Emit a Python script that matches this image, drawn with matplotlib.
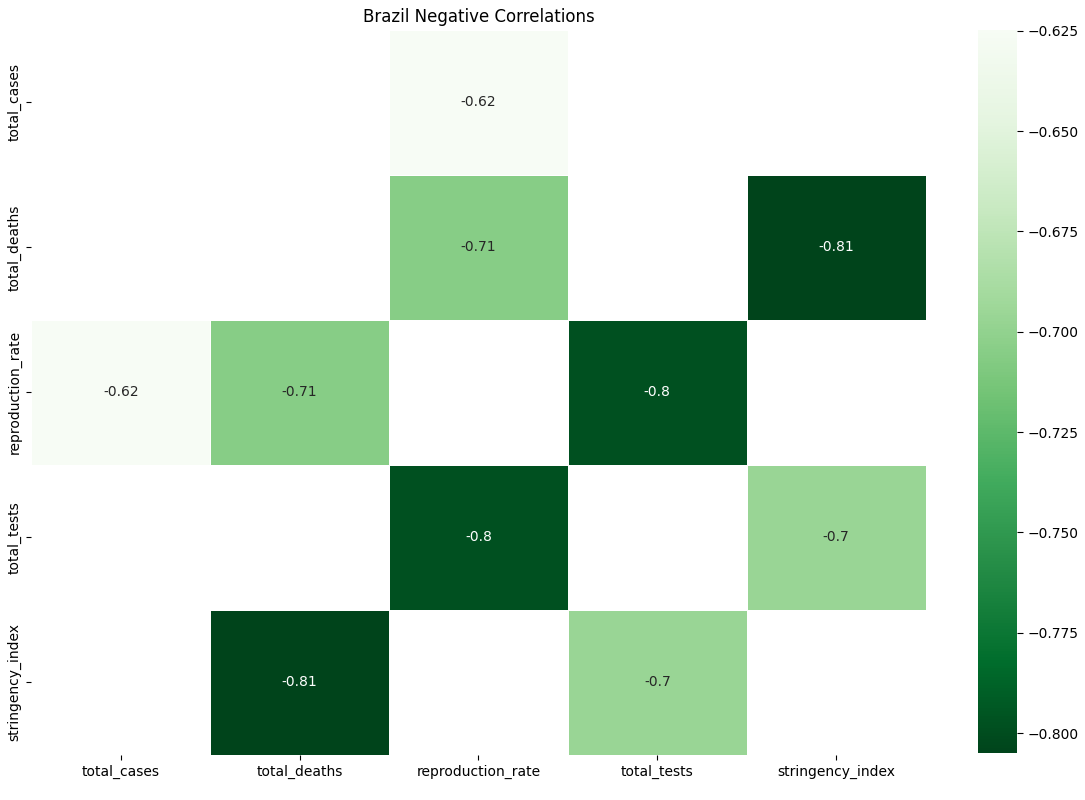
import numpy as np
import matplotlib
matplotlib.use('Agg')
import matplotlib.pyplot as plt
import seaborn as sns

# Negative correlations for Brazil (only strong ones kept, others masked)
labels = ['total_cases', 'total_deaths', 'reproduction_rate', 'total_tests', 'stringency_index']
nan = np.nan
row_cases = [nan, nan, -0.6248, nan, nan]
row_deaths = [nan, nan, -0.7056, nan, -0.805]
row_repro = [-0.6248, -0.7056, nan, -0.798, nan]
row_tests = [nan, nan, -0.798, nan, -0.696]
row_string = [nan, -0.805, nan, -0.696, nan]

corr = np.array([row_cases, row_deaths, row_repro, row_tests, row_string])

fig = plt.figure(figsize=(10.85, 8), dpi=100)
ax = fig.add_axes([0.029, 0.0565, 0.824, 0.906])
cax = fig.add_axes([0.901, 0.0585, 0.036, 0.904])

sns.heatmap(corr, cmap='Greens_r', annot=True, linewidths=0.5, linecolor='white',
            xticklabels=labels, yticklabels=labels, ax=ax, cbar_ax=cax)
ax.set_title('Brazil Negative Correlations')
cax.tick_params(length=4)
for s in cax.spines.values():
    s.set_visible(False)

plt.savefig('out.png', dpi=100)
